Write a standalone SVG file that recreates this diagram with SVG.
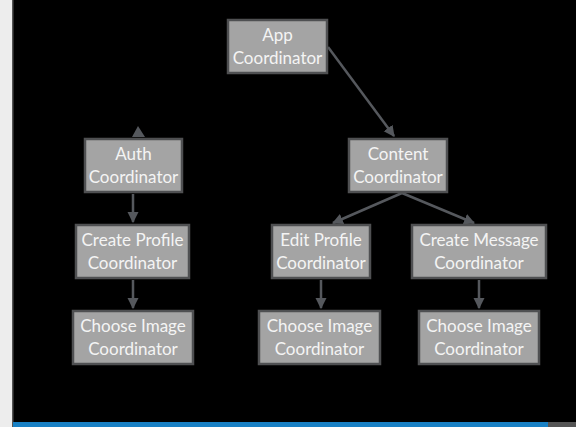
<svg xmlns="http://www.w3.org/2000/svg" width="576" height="427" viewBox="0 0 576 427">
<defs>
<style>
.box{fill:#a4a4a4;stroke:#4f5052;stroke-width:2.5}
.t{font-family:Lato,"Open Sans","Liberation Sans",sans-serif;font-size:17px;fill:#f4f4f4;text-anchor:middle}
.c{stroke:#55585d;stroke-width:2.5;fill:none}
</style>
<marker id="ah" viewBox="0 0 10 10" refX="9" refY="5" markerWidth="11" markerHeight="12" orient="auto" markerUnits="userSpaceOnUse">
<path d="M0,0 L10,5 L0,10 z" fill="#55585d"/>
</marker>
</defs>
<rect x="0" y="0" width="576" height="427" fill="#000"/>
<rect x="0" y="0" width="12" height="427" fill="#ededed"/>
<rect x="12" y="0" width="1.5" height="427" fill="#555"/>
<rect x="13" y="422" width="535" height="5" fill="#1880c4"/>
<rect x="548" y="422" width="28" height="5" fill="#555"/>

<g id="connectors">
<line class="c" x1="328" y1="47" x2="394" y2="136" marker-end="url(#ah)"/>
<line class="c" x1="402" y1="193" x2="333" y2="223" stroke-width="1.5" marker-end="url(#ah)"/>
<line class="c" x1="402" y1="193" x2="474" y2="223" marker-end="url(#ah)"/>
<line class="c" x1="133" y1="194" x2="133" y2="222" marker-end="url(#ah)"/>
<line class="c" x1="133" y1="280" x2="133" y2="308" marker-end="url(#ah)"/>
<line class="c" x1="321" y1="280" x2="321" y2="308" marker-end="url(#ah)"/>
<line class="c" x1="479" y1="280" x2="479" y2="308" marker-end="url(#ah)"/>
<path d="M138,126 L145,137 L132,137 z" fill="#55585d"/>
</g>

<g id="app"><rect class="box" x="228" y="20" width="99" height="53"/><text class="t" x="277.5" y="41">App</text><text class="t" x="277.5" y="64">Coordinator</text></g>
<g id="auth"><rect class="box" x="85" y="139" width="97" height="53"/><text class="t" x="133.5" y="160">Auth</text><text class="t" x="133.5" y="183">Coordinator</text></g>
<g id="content"><rect class="box" x="349" y="139" width="98" height="53"/><text class="t" x="398" y="160">Content</text><text class="t" x="398" y="183">Coordinator</text></g>
<g id="createProfile"><rect class="box" x="76" y="225" width="113" height="53"/><text class="t" x="132.5" y="246">Create Profile</text><text class="t" x="132.5" y="269">Coordinator</text></g>
<g id="editProfile"><rect class="box" x="272" y="225" width="98" height="53"/><text class="t" x="321" y="246">Edit Profile</text><text class="t" x="321" y="269">Coordinator</text></g>
<g id="createMessage"><rect class="box" x="412" y="225" width="134" height="53"/><text class="t" x="479" y="246">Create Message</text><text class="t" x="479" y="269">Coordinator</text></g>
<g id="chooseImage1"><rect class="box" x="73" y="311" width="120" height="53"/><text class="t" x="133" y="332">Choose Image</text><text class="t" x="133" y="355">Coordinator</text></g>
<g id="chooseImage2"><rect class="box" x="259" y="311" width="121" height="53"/><text class="t" x="319.5" y="332">Choose Image</text><text class="t" x="319.5" y="355">Coordinator</text></g>
<g id="chooseImage3"><rect class="box" x="419" y="311" width="120" height="53"/><text class="t" x="479" y="332">Choose Image</text><text class="t" x="479" y="355">Coordinator</text></g>
</svg>
